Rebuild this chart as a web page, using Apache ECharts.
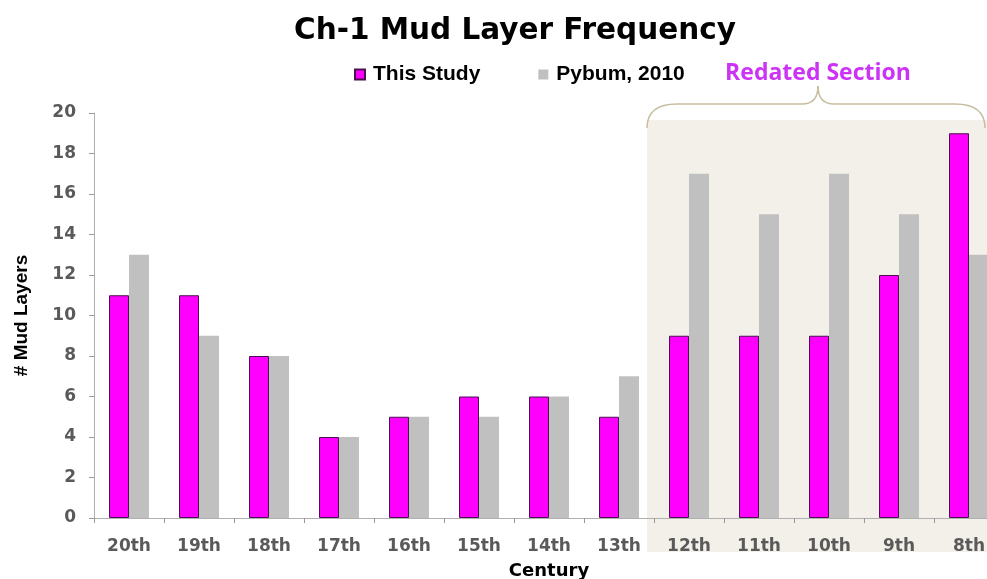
<!DOCTYPE html>
<html>
<head>
<meta charset="utf-8">
<script src="https://cdn.jsdelivr.net/npm/echarts@6/dist/echarts.min.js"></script>
<style>
html,body{margin:0;padding:0;background:#fff;}
#chart{width:987px;height:579px;}
</style>
</head>
<body>
<div id="chart"></div>
<script>
var categories = ['20th','19th','18th','17th','16th','15th','14th','13th','12th','11th','10th','9th','8th'];
var thisStudy = [11, 11, 8, 4, 5, 6, 6, 5, 9, 9, 9, 12, 19];
var pyburn = [13, 9, 8, 4, 5, 5, 6, 7, 17, 15, 17, 15, 13];
var redatedStart = '12th';
var yTicks = [0, 2, 4, 6, 8, 10, 12, 14, 16, 18, 20];

var chart = echarts.init(document.getElementById('chart'));
var option = {
  backgroundColor: '#ffffff',
  animation: false,
  title: {
    text: 'Ch-1 Mud Layer Frequency',
    left: 289,
    top: 11,
    textStyle: {fontFamily: 'DejaVu Sans', fontWeight: 'bold', fontSize: 29.5, color: '#000'}
  },
  legend: {
    left: 349,
    top: 59,
    itemWidth: 10,
    itemHeight: 10,
    itemGap: 58,
    icon: 'rect',
    textStyle: {fontFamily: 'Liberation Sans', fontWeight: 'bold', fontSize: 21, color: '#000', padding: [0, 0, 0, 3]},
    data: ['This Study', 'Pybum, 2010']
  },
  grid: {left: 94, right: -17, top: 113, bottom: 61, containLabel: false, outerBoundsMode: 'none'},
  xAxis: {
    type: 'category',
    data: categories,
    name: 'Century',
    nameLocation: 'middle',
    nameGap: 44,
    nameTextStyle: {fontFamily: 'DejaVu Sans', fontWeight: 'bold', fontSize: 18, color: '#000'},
    axisLine: {lineStyle: {color: '#b0b0b0', width: 1}},
    axisTick: {show: true, length: 5, lineStyle: {color: '#999'}},
    axisLabel: {margin: 20, fontFamily: 'DejaVu Sans', fontWeight: 'bold', fontSize: 17, color: '#5a5a5a'}
  },
  yAxis: {
    type: 'value',
    min: 0,
    max: 20,
    interval: 2,
    name: '# Mud Layers',
    nameLocation: 'middle',
    nameGap: 63,
    nameTextStyle: {fontFamily: 'Liberation Sans', fontWeight: 'bold', fontSize: 19, color: '#000'},
    axisLine: {show: true, lineStyle: {color: '#b0b0b0', width: 1}},
    axisTick: {show: true, length: 5, lineStyle: {color: '#999'}},
    splitLine: {show: false},
    axisLabel: {
      margin: 18,
      fontFamily: 'DejaVu Sans', fontWeight: 'bold', fontSize: 17, color: '#5a5a5a',
      formatter: function (v) { return yTicks.indexOf(v) >= 0 ? String(v) : ''; }
    }
  },
  series: [
    {
      name: 'This Study',
      type: 'bar',
      data: thisStudy,
      barWidth: 20,
      barGap: '0%',
      itemStyle: {color: '#ff00ff', borderColor: '#4a1050', borderWidth: 1}
    },
    {
      name: 'Pybum, 2010',
      type: 'bar',
      data: pyburn,
      barWidth: 20,
      barGap: '0%',
      itemStyle: {color: '#c0c0c0'}
    }
  ]
};
chart.setOption(option);

// Annotation: shaded "Redated Section" with brace, positioned via axis scales
var idx = categories.indexOf(redatedStart);
var cx = chart.convertToPixel({xAxisIndex: 0}, redatedStart);
var cx2 = chart.convertToPixel({xAxisIndex: 0}, categories[idx + 1]);
var band = cx2 - cx;
var L = cx - band / 2 - 7;
var R = 985;
var yTop = chart.convertToPixel({yAxisIndex: 0}, 20) + 7;
var yBottom = 552;
var mid = (L + R) / 2 + 2;
var by = yTop - 16;
var braceStyle = {fill: 'none', stroke: '#c6bd9f', lineWidth: 1.5};

function curve(x1, y1, cpx, cpy, x2, y2) {
  return {type: 'bezierCurve', z: 10, silent: true,
    shape: {x1: x1, y1: y1, x2: x2, y2: y2, cpx1: cpx, cpy1: cpy},
    style: braceStyle};
}
function seg(x1, y1, x2, y2) {
  return {type: 'line', z: 10, silent: true,
    shape: {x1: x1, y1: y1, x2: x2, y2: y2}, style: braceStyle};
}

chart.setOption({
  graphic: [
    {
      type: 'rect',
      z: -10,
      silent: true,
      shape: {x: L, y: yTop, width: 1100 - L, height: yBottom - yTop},
      style: {fill: '#f2f0e9'}
    },
    curve(L, yTop + 8, L, by, L + 30, by),
    seg(L + 30, by, mid - 16, by),
    curve(mid - 16, by, mid, by, mid, by - 18),
    curve(mid, by - 18, mid, by, mid + 16, by),
    seg(mid + 16, by, R - 30, by),
    curve(R - 30, by, R, by, R, yTop + 8),
    {
      type: 'text',
      z: 10,
      silent: true,
      x: mid,
      y: 73,
      style: {
        text: 'Redated Section',
        fill: '#cc33f5',
        fontFamily: 'Open Sans',
        fontWeight: 'bold',
        fontSize: 23,
        align: 'center',
        verticalAlign: 'middle'
      }
    }
  ]
});
</script>
</body>
</html>
